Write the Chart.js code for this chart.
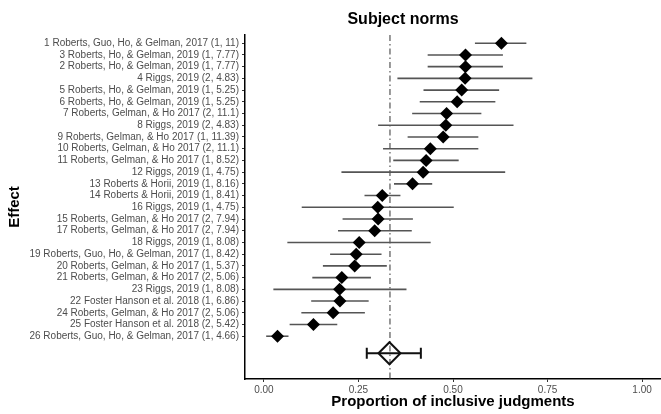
<!DOCTYPE html>
<html lang="en">
<head>
    <meta charset="UTF-8">
    <title>Subject norms</title>
    <style>
        html, body {
            margin: 0;
            overflow: hidden;
            background-color: #ffffff;
        }
        .chart-box {
            position: relative;
            width: 661px;
            height: 414px;
        }
        canvas {
            display: block;
        }
    </style>
    <script src="https://cdn.jsdelivr.net/npm/chart.js"></script>
</head>
<body>

<div class="chart-box">
    <canvas id="forestChart"></canvas>
</div>

<script>
    const studyLabels = [
        '1 Roberts, Guo, Ho, & Gelman, 2017 (1, 11)',
        '3 Roberts, Ho, & Gelman, 2019 (1, 7.77)',
        '2 Roberts, Ho, & Gelman, 2019 (1, 7.77)',
        '4 Riggs, 2019 (2, 4.83)',
        '5 Roberts, Ho, & Gelman, 2019 (1, 5.25)',
        '6 Roberts, Ho, & Gelman, 2019 (1, 5.25)',
        '7 Roberts, Gelman, & Ho 2017 (2, 11.1)',
        '8 Riggs, 2019 (2, 4.83)',
        '9 Roberts, Gelman, & Ho 2017 (1, 11.39)',
        '10 Roberts, Gelman, & Ho 2017 (2, 11.1)',
        '11 Roberts, Gelman, & Ho 2017 (1, 8.52)',
        '12 Riggs, 2019 (1, 4.75)',
        '13 Roberts & Horii, 2019 (1, 8.16)',
        '14 Roberts & Horii, 2019 (1, 8.41)',
        '16 Riggs, 2019 (1, 4.75)',
        '15 Roberts, Gelman, & Ho 2017 (2, 7.94)',
        '17 Roberts, Gelman, & Ho 2017 (2, 7.94)',
        '18 Riggs, 2019 (1, 8.08)',
        '19 Roberts, Guo, Ho, & Gelman, 2017 (1, 8.42)',
        '20 Roberts, Gelman, & Ho 2017 (1, 5.37)',
        '21 Roberts, Gelman, & Ho 2017 (2, 5.06)',
        '23 Riggs, 2019 (1, 8.08)',
        '22 Foster Hanson et al. 2018 (1, 6.86)',
        '24 Roberts, Gelman, & Ho 2017 (2, 5.06)',
        '25 Foster Hanson et al. 2018 (2, 5.42)',
        '26 Roberts, Guo, Ho, & Gelman, 2017 (1, 4.66)'
    ];
    const estimates = [0.628, 0.533, 0.533, 0.532, 0.523, 0.511, 0.483, 0.481, 0.474, 0.440, 0.429, 0.421, 0.393,
        0.313, 0.301, 0.302, 0.293, 0.252, 0.244, 0.240, 0.206, 0.200, 0.201, 0.183, 0.131, 0.036];
    const lowerCI = [0.558, 0.433, 0.433, 0.353, 0.422, 0.412, 0.392, 0.302, 0.380, 0.315, 0.342, 0.205, 0.344,
        0.266, 0.100, 0.208, 0.196, 0.062, 0.175, 0.156, 0.128, 0.025, 0.125, 0.099, 0.068, 0.006];
    const upperCI = [0.694, 0.632, 0.632, 0.710, 0.622, 0.612, 0.575, 0.660, 0.567, 0.567, 0.515, 0.638, 0.445,
        0.361, 0.502, 0.394, 0.391, 0.441, 0.311, 0.325, 0.283, 0.377, 0.277, 0.267, 0.194, 0.065];
    const summaryEstimate = [0.332];
    const summaryCI = [0.272, 0.415];
    const summaryRow = 27.45;
    const referenceLine = 1 / 3;
    const xTicks = [0, 0.25, 0.5, 0.75, 1];

    const rows = studyLabels.map((_, i) => i + 1);

    // dashed reference line, grey CI whiskers and the summary error bar
    const forestLines = {
        id: 'forestLines',
        beforeDatasetsDraw(chart) {
            const ctx = chart.ctx;
            const x = chart.scales.x;
            const y = chart.scales.y;
            const area = chart.chartArea;
            ctx.save();

            ctx.strokeStyle = '#555555';
            ctx.lineWidth = 1.2;
            ctx.setLineDash([6, 3, 1.5, 3]);
            ctx.beginPath();
            ctx.moveTo(x.getPixelForValue(referenceLine), area.top);
            ctx.lineTo(x.getPixelForValue(referenceLine), area.bottom);
            ctx.stroke();
            ctx.setLineDash([]);

            ctx.strokeStyle = '#555555';
            ctx.lineWidth = 1.6;
            rows.forEach((r, i) => {
                const py = y.getPixelForValue(r);
                ctx.beginPath();
                ctx.moveTo(x.getPixelForValue(lowerCI[i]), py);
                ctx.lineTo(x.getPixelForValue(upperCI[i]), py);
                ctx.stroke();
            });

            const sy = y.getPixelForValue(summaryRow);
            const x1 = x.getPixelForValue(summaryCI[0]);
            const x2 = x.getPixelForValue(summaryCI[1]);
            ctx.strokeStyle = '#111111';
            ctx.lineWidth = 2;
            ctx.beginPath();
            ctx.moveTo(x1, sy);
            ctx.lineTo(x2, sy);
            ctx.moveTo(x1, sy - 5.5);
            ctx.lineTo(x1, sy + 5.5);
            ctx.moveTo(x2, sy - 5.5);
            ctx.lineTo(x2, sy + 5.5);
            ctx.stroke();
            ctx.restore();
        }
    };

    const plotTitle = {
        id: 'plotTitle',
        afterDraw(chart) {
            const ctx = chart.ctx;
            ctx.save();
            ctx.fillStyle = '#000000';
            ctx.font = 'bold 16px "Liberation Sans", Arial, sans-serif';
            ctx.textAlign = 'center';
            ctx.textBaseline = 'middle';
            ctx.fillText('Subject norms', 403, 20);
            ctx.restore();
        }
    };

    const ctx1 = document.getElementById('forestChart').getContext('2d');
    const forestChart = new Chart(ctx1, {
        type: 'scatter',
        data: {
            datasets: [{
                label: 'Studies',
                data: rows.map((r, i) => ({ x: estimates[i], y: r })),
                pointStyle: 'rectRot',
                pointRadius: 6.5,
                backgroundColor: '#000000',
                borderColor: '#000000',
                borderWidth: 0
            }, {
                label: 'Summary',
                data: [{ x: summaryEstimate[0], y: summaryRow }],
                pointStyle: 'rectRot',
                pointRadius: 11,
                backgroundColor: 'rgba(0,0,0,0)',
                borderColor: '#111111',
                borderWidth: 2
            }]
        },
        options: {
            responsive: true,
            maintainAspectRatio: false,
            animation: false,
            layout: {
                autoPadding: false,
                padding: { top: 35, right: 0, bottom: 0, left: 0 }
            },
            plugins: {
                legend: { display: false },
                tooltip: { enabled: false }
            },
            scales: {
                x: {
                    type: 'linear',
                    min: -0.05,
                    max: 1.05,
                    afterBuildTicks: (scale) => {
                        scale.ticks = xTicks.map(v => ({ value: v }));
                    },
                    afterFit: (scale) => {
                        scale.height = 35;
                        scale.paddingLeft = 0;
                        scale.paddingRight = 0;
                    },
                    grid: { drawOnChartArea: false, drawTicks: true, tickLength: 3, color: '#333333' },
                    border: { display: true, color: '#000000', width: 1.5 },
                    ticks: {
                        padding: 2,
                        color: '#4d4d4d',
                        maxRotation: 0,
                        font: { family: '"Liberation Sans", Arial, sans-serif', size: 10 },
                        callback: (v) => Number(v).toFixed(2)
                    },
                    title: {
                        display: true,
                        text: 'Proportion of inclusive judgments',
                        color: '#000000',
                        padding: { top: 0, bottom: 3 },
                        font: { family: '"Liberation Sans", Arial, sans-serif', size: 15, weight: 'bold' }
                    }
                },
                y: {
                    type: 'linear',
                    reverse: true,
                    min: 0.3,
                    max: 29.65,
                    afterBuildTicks: (scale) => {
                        scale.ticks = rows.map(v => ({ value: v }));
                    },
                    afterFit: (scale) => {
                        scale.width = 245;
                        scale.paddingTop = 0;
                        scale.paddingBottom = 0;
                    },
                    grid: { drawOnChartArea: false, drawTicks: true, tickLength: 3, color: '#333333' },
                    border: { display: true, color: '#000000', width: 1.5 },
                    ticks: {
                        padding: 3,
                        color: '#4d4d4d',
                        autoSkip: false,
                        font: { family: '"Liberation Sans", Arial, sans-serif', size: 10 },
                        callback: (v) => studyLabels[v - 1]
                    },
                    title: {
                        display: true,
                        text: 'Effect',
                        color: '#000000',
                        padding: { top: 6, bottom: 0 },
                        font: { family: '"Liberation Sans", Arial, sans-serif', size: 15, weight: 'bold' }
                    }
                }
            }
        },
        plugins: [forestLines, plotTitle]
    });
</script>

</body>
</html>
